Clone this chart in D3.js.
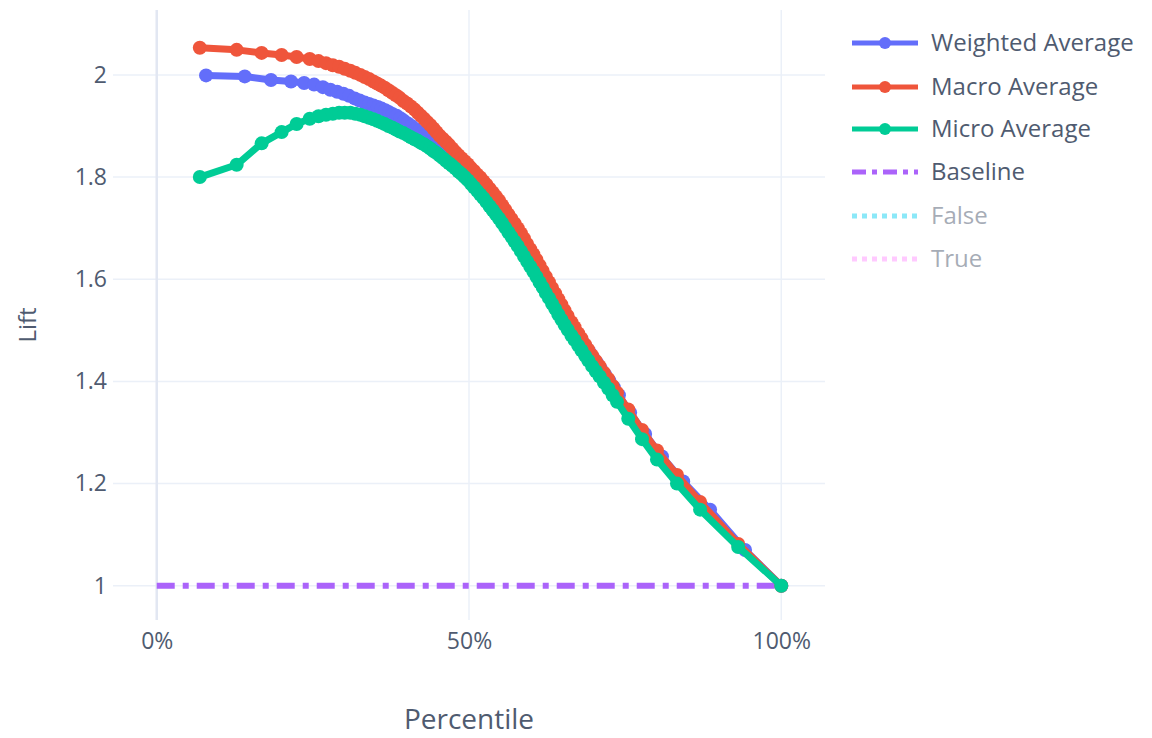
<!DOCTYPE html>
<html>
<head>
<meta charset="utf-8">
<script src="https://cdn.jsdelivr.net/npm/d3@7"></script>
<style>
  html, body { margin: 0; padding: 0; background: #ffffff; }
  svg { display: block; font-family: "Open Sans", Verdana, Arial, sans-serif; }
</style>
</head>
<body>
<svg id="chart" width="1152" height="738"></svg>
<script>
// ---------------- data ----------------
const seriesNames = ["Weighted Average", "Macro Average", "Micro Average", "Baseline", "False", "True"];

const macroMicroPct = [6.9, 12.8, 16.8, 20.0, 22.4, 24.5, 25.9, 27.1, 28.2, 29.2,
  30.1, 31.0, 31.8, 32.6, 33.3, 34.0, 34.7, 35.3, 35.9, 36.5,
  37.1, 37.7, 38.3, 38.9, 39.5, 40.1, 40.7, 41.3, 41.8, 42.3,
  42.8, 43.3, 43.8, 44.3, 44.8, 45.3, 45.8, 46.3, 46.8, 47.3,
  47.8, 48.3, 48.8, 49.3, 49.8, 50.3, 50.8, 51.3, 51.8, 52.3,
  52.8, 53.3, 53.8, 54.3, 54.8, 55.3, 55.8, 56.3, 56.8, 57.3,
  57.8, 58.3, 58.8, 59.3, 59.8, 60.3, 60.8, 61.3, 61.8, 62.3,
  62.8, 63.3, 63.8, 64.3, 64.8, 65.3, 65.8, 66.4, 66.9, 67.5,
  68.0, 68.6, 69.1, 69.7, 70.3, 70.9, 71.6, 72.3, 73.0, 73.7,
  75.5, 77.7, 80.1, 83.3, 87.0, 93.1, 100];

const macroLift = [2.053, 2.049, 2.043, 2.039, 2.035, 2.031, 2.027, 2.023, 2.019, 2.016,
  2.012, 2.008, 2.004, 2.000, 1.996, 1.992, 1.987, 1.983, 1.979, 1.975,
  1.970, 1.965, 1.960, 1.955, 1.949, 1.944, 1.938, 1.932, 1.926, 1.920,
  1.914, 1.908, 1.902, 1.895, 1.888, 1.881, 1.875, 1.869, 1.863, 1.856,
  1.849, 1.843, 1.837, 1.831, 1.825, 1.818, 1.812, 1.805, 1.799, 1.792,
  1.785, 1.777, 1.770, 1.762, 1.754, 1.745, 1.736, 1.727, 1.718, 1.709,
  1.700, 1.690, 1.680, 1.669, 1.659, 1.649, 1.638, 1.627, 1.616, 1.605,
  1.594, 1.583, 1.572, 1.561, 1.550, 1.539, 1.528, 1.516, 1.506, 1.494,
  1.484, 1.472, 1.462, 1.451, 1.440, 1.430, 1.417, 1.405, 1.391, 1.378,
  1.345, 1.305, 1.265, 1.217, 1.164, 1.082, 1.000];

const microLift = [1.800, 1.824, 1.866, 1.888, 1.904, 1.914, 1.919, 1.922, 1.924, 1.926,
  1.926, 1.926, 1.924, 1.922, 1.919, 1.916, 1.913, 1.910, 1.907, 1.904,
  1.900, 1.897, 1.893, 1.889, 1.886, 1.882, 1.878, 1.874, 1.871, 1.867,
  1.864, 1.860, 1.856, 1.851, 1.847, 1.842, 1.837, 1.832, 1.827, 1.822,
  1.817, 1.811, 1.806, 1.800, 1.794, 1.787, 1.780, 1.773, 1.766, 1.759,
  1.751, 1.743, 1.735, 1.727, 1.719, 1.710, 1.701, 1.692, 1.683, 1.674,
  1.665, 1.655, 1.645, 1.635, 1.625, 1.615, 1.605, 1.594, 1.584, 1.573,
  1.563, 1.552, 1.542, 1.531, 1.521, 1.511, 1.501, 1.490, 1.481, 1.470,
  1.461, 1.450, 1.441, 1.430, 1.420, 1.410, 1.398, 1.386, 1.373, 1.360,
  1.327, 1.287, 1.247, 1.200, 1.149, 1.076, 1.000];

const weightedPct = [7.9, 14.1, 18.3, 21.5, 23.6, 25.2, 26.6, 27.8, 28.9, 29.9,
  30.8, 31.7, 32.5, 33.3, 34.0, 34.7, 35.4, 36.0, 36.6, 37.2,
  37.8, 38.4, 39.0, 39.6, 40.2, 40.8, 41.4, 41.9, 42.4, 42.9,
  43.4, 43.9, 44.4, 44.9, 45.4, 45.9, 46.4, 46.9, 47.4, 47.9,
  48.4, 48.9, 49.4, 49.9, 50.4, 50.9, 51.4, 51.9, 52.4, 52.9,
  53.4, 53.9, 54.4, 54.9, 55.4, 55.9, 56.4, 56.9, 57.4, 57.9,
  58.4, 58.9, 59.4, 59.9, 60.4, 60.9, 61.4, 61.9, 62.4, 62.9,
  63.4, 63.9, 64.4, 64.9, 65.4, 65.9, 66.5, 67.0, 67.6, 68.1,
  68.7, 69.3, 69.9, 70.5, 71.1, 71.8, 72.5, 73.2, 74.0, 75.8,
  78.2, 80.9, 84.3, 88.6, 94.2, 100];

const weightedLift = [1.999, 1.997, 1.990, 1.987, 1.984, 1.981, 1.976, 1.971, 1.967, 1.963,
  1.959, 1.954, 1.950, 1.946, 1.943, 1.940, 1.937, 1.934, 1.931, 1.927,
  1.923, 1.920, 1.915, 1.910, 1.905, 1.900, 1.894, 1.889, 1.885, 1.880,
  1.875, 1.871, 1.867, 1.863, 1.858, 1.854, 1.849, 1.844, 1.838, 1.832,
  1.826, 1.820, 1.814, 1.807, 1.800, 1.794, 1.787, 1.780, 1.773, 1.766,
  1.758, 1.750, 1.742, 1.734, 1.726, 1.717, 1.708, 1.699, 1.690, 1.681,
  1.672, 1.662, 1.652, 1.642, 1.633, 1.623, 1.612, 1.602, 1.591, 1.580,
  1.570, 1.560, 1.550, 1.540, 1.530, 1.520, 1.508, 1.499, 1.488, 1.479,
  1.468, 1.457, 1.446, 1.436, 1.425, 1.413, 1.401, 1.388, 1.373, 1.339,
  1.297, 1.253, 1.204, 1.149, 1.070, 1.000];

const baselinePct = [0, 100];
const baselineLift = [1, 1];

const xTicks = [0, 50, 100];
const xTickLabels = ["0%", "50%", "100%"];
const yTicks = [1, 1.2, 1.4, 1.6, 1.8, 2];
const yTickLabels = ["1", "1.2", "1.4", "1.6", "1.8", "2"];

const colors = ["#636EFA", "#EF553B", "#00CC96", "#AB63FA", "#19D3F3", "#FF97FF"];

// ---------------- layout ----------------
const W = 1152, H = 738;
const plot = { left: 113, right: 825, top: 10, bottom: 620 };
const textColor = "#4f5b70";

const svg = d3.select("#chart");
svg.append("rect").attr("width", W).attr("height", H).attr("fill", "#ffffff");

const x = d3.scaleLinear().domain([-7, 107]).range([plot.left, plot.right]);
const y = d3.scaleLinear().domain([0.933, 2.127]).range([plot.bottom, plot.top]);

// grid
const grid = svg.append("g");
grid.selectAll("line.h").data(yTicks).join("line")
  .attr("x1", plot.left).attr("x2", plot.right)
  .attr("y1", d => y(d)).attr("y2", d => y(d))
  .attr("stroke", "#EBF0F8").attr("stroke-width", 1.5);
grid.selectAll("line.v").data(xTicks).join("line")
  .attr("x1", d => x(d)).attr("x2", d => x(d))
  .attr("y1", plot.top).attr("y2", plot.bottom)
  .attr("stroke", d => d === 0 ? "#E2E7F2" : "#EBF0F8")
  .attr("stroke-width", d => d === 0 ? 2.5 : 1.5);

// axes
const yAxis = d3.axisLeft(y).tickValues(yTicks).tickFormat((d, i) => yTickLabels[i]).tickSize(0).tickPadding(6);
const gy = svg.append("g").attr("transform", `translate(${plot.left},0)`).call(yAxis);
gy.select(".domain").remove();
gy.selectAll("text").attr("fill", textColor).style("font-size", "23px").style("font-family", "'Open Sans', sans-serif");

const xAxis = d3.axisBottom(x).tickValues(xTicks).tickFormat((d, i) => xTickLabels[i]).tickSize(0).tickPadding(13);
const gx = svg.append("g").attr("transform", `translate(0,${plot.bottom})`).call(xAxis);
gx.select(".domain").remove();
gx.selectAll("text").attr("fill", textColor).style("font-size", "23px").style("font-family", "'Open Sans', sans-serif");

// axis titles
svg.append("text").attr("x", 469).attr("y", 729).attr("text-anchor", "middle")
  .attr("fill", textColor).style("font-size", "28px").text("Percentile");
svg.append("text").attr("transform", "translate(36,325) rotate(-90)").attr("text-anchor", "middle")
  .attr("fill", textColor).style("font-size", "24px").text("Lift");

// series
svg.append("clipPath").attr("id", "clip").append("rect")
  .attr("x", plot.left).attr("y", plot.top).attr("width", plot.right - plot.left).attr("height", plot.bottom - plot.top);
const plotG = svg.append("g").attr("clip-path", "url(#clip)");

const line = d3.line().x(d => x(d[0])).y(d => y(d[1]));

const series = [
  { name: seriesNames[0], color: colors[0], pts: d3.zip(weightedPct, weightedLift) },
  { name: seriesNames[1], color: colors[1], pts: d3.zip(macroMicroPct, macroLift) },
  { name: seriesNames[2], color: colors[2], pts: d3.zip(macroMicroPct, microLift) }
];

// baseline
plotG.append("path").datum(d3.zip(baselinePct, baselineLift))
  .attr("d", line).attr("fill", "none").attr("stroke", colors[3])
  .attr("stroke-width", 6).attr("stroke-dasharray", "18,8,6,8");

series.forEach(s => {
  const g = plotG.append("g");
  g.append("path").datum(s.pts).attr("d", line)
    .attr("fill", "none").attr("stroke", s.color).attr("stroke-width", 7)
    .attr("stroke-linejoin", "round");
  g.selectAll("circle").data(s.pts).join("circle")
    .attr("cx", d => x(d[0])).attr("cy", d => y(d[1])).attr("r", 7)
    .attr("fill", s.color);
});

// legend
const legend = svg.append("g");
const rowsY = [43, 87, 129, 172, 216, 259];
const legendItems = [
  { name: seriesNames[0], color: colors[0], type: "marker", dash: null, opacity: 1 },
  { name: seriesNames[1], color: colors[1], type: "marker", dash: null, opacity: 1 },
  { name: seriesNames[2], color: colors[2], type: "marker", dash: null, opacity: 1 },
  { name: seriesNames[3], color: colors[3], type: "line", dash: "14,6,5,6", opacity: 1 },
  { name: seriesNames[4], color: colors[4], type: "line", dash: "5,5", opacity: 0.5 },
  { name: seriesNames[5], color: colors[5], type: "line", dash: "5,5", opacity: 0.5 }
];
legendItems.forEach((it, i) => {
  const g = legend.append("g").attr("transform", `translate(0,${rowsY[i]})`).attr("opacity", it.opacity);
  g.append("line").attr("x1", 852).attr("x2", 918).attr("y1", 0).attr("y2", 0)
    .attr("stroke", it.color).attr("stroke-width", 5)
    .attr("stroke-dasharray", it.dash);
  if (it.type === "marker") {
    g.append("circle").attr("cx", 885).attr("cy", 0).attr("r", 6).attr("fill", it.color);
  }
  g.append("text").attr("x", 931).attr("y", 0).attr("dy", "0.35em")
    .attr("fill", textColor).style("font-size", "24px").text(it.name);
});

// sanity check of array lengths
if (macroMicroPct.length !== macroLift.length || macroMicroPct.length !== microLift.length || weightedPct.length !== weightedLift.length) {
  svg.append("text").attr("x", 300).attr("y", 400).attr("fill", "red").text("LENGTH MISMATCH");
}
</script>
</body>
</html>
